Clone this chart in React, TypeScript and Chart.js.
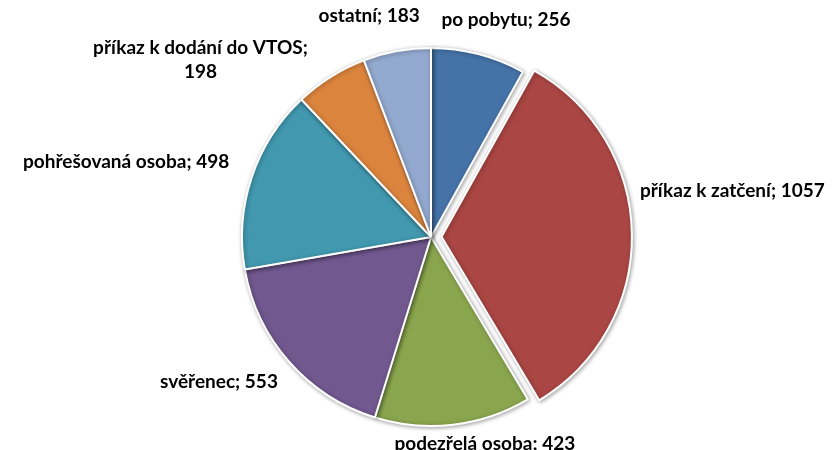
import { useEffect, useRef } from 'react';
import { Chart, registerables } from 'chart.js';

Chart.register(...registerables);

const categories = [
  'po pobytu',
  'příkaz k zatčení',
  'podezřelá osoba',
  'svěřenec',
  'pohřešovaná osoba',
  'příkaz k dodání do VTOS',
  'ostatní',
];
const values = [256, 1057, 423, 553, 498, 198, 183];
const colors = ['#4572A7', '#AA4643', '#89A54E', '#71588F', '#4198AF', '#DB843D', '#93A9CF'];
const explode = [0, 42, 0, 0, 0, 0, 0];

const labelNudge = [
  [5, 2],
  [-17, -43],
  [18, -18],
  [-7, -4],
  [-4, -4],
  [-60, 25],
  [-14, 1],
];

const shadowPlugin = {
  id: 'sliceShadow',
  beforeDatasetDraw(chart: any) {
    const ctx = chart.ctx;
    ctx.save();
    ctx.shadowColor = 'rgba(0,0,0,0.35)';
    ctx.shadowBlur = 4;
    ctx.shadowOffsetX = 1;
    ctx.shadowOffsetY = 1;
  },
  afterDatasetDraw(chart: any) {
    chart.ctx.restore();
  },
};

const labelPlugin = {
  id: 'outLabels',
  afterDraw(chart: any, _args: any, opts: any) {
    const ctx = chart.ctx;
    const meta = chart.getDatasetMeta(0);
    ctx.save();
    ctx.font = opts.font;
    ctx.fillStyle = opts.color;
    ctx.textBaseline = 'middle';
    ctx.textAlign = 'center';
    meta.data.forEach((arc: any, i: number) => {
      const { x, y, startAngle, endAngle, outerRadius } = arc.getProps(
        ['x', 'y', 'startAngle', 'endAngle', 'outerRadius'],
        true
      );
      const mid = (startAngle + endAngle) / 2;
      const circ = endAngle - startAngle;
      const o = (explode[i] || 0) / 4;
      const off = o + o * (1 - Math.sin(Math.min(Math.PI, circ)));
      const cx = x + Math.cos(mid) * off;
      const cy = y + Math.sin(mid) * off;
      const r = outerRadius + opts.gap;
      const ax = cx + Math.cos(mid) * r;
      const ay = cy + Math.sin(mid) * r;
      const full = `${categories[i]}; ${values[i]}`;
      let lines = [full];
      if (ctx.measureText(full).width > opts.maxWidth) {
        lines = [`${categories[i]};`, `${values[i]}`];
      }
      const w = Math.max(...lines.map((l) => ctx.measureText(l).width));
      const h = lines.length * opts.lineHeight;
      const nd = labelNudge[i] || [0, 0];
      const left = ax - (w * (1 - Math.cos(mid))) / 2 + nd[0];
      const top = ay - (h * (1 - Math.sin(mid))) / 2 + nd[1];
      lines.forEach((l, k) => {
        ctx.fillText(l, left + w / 2, top + opts.lineHeight * (k + 0.5));
      });
    });
    ctx.restore();
  },
};

export default function App() {
  const ref = useRef<HTMLCanvasElement | null>(null);
  useEffect(() => {
    document.body.style.margin = '0';
    if (!ref.current) return;
    const chart = new Chart(ref.current, {
      type: 'pie',
      data: {
        labels: categories,
        datasets: [
          {
            data: values,
            backgroundColor: colors,
            borderColor: '#ffffff',
            borderWidth: 2,
            offset: explode,
          },
        ],
      },
      options: {
        animation: false,
        responsive: false,
        radius: 189,
        layout: { padding: { left: 30, right: 0, top: 24, bottom: 0 } },
        plugins: {
          legend: { display: false },
          tooltip: { enabled: false },
          outLabels: {
            font: 'bold 19px Lato',
            color: '#000000',
            gap: 25,
            maxWidth: 240,
            lineHeight: 24,
          },
        } as any,
      },
      plugins: [shadowPlugin, labelPlugin],
    } as any);
    return () => chart.destroy();
  }, []);
  return (
    <div style={{ width: 832, height: 450, background: '#fff' }}>
      <canvas ref={ref} width={832} height={450} />
    </div>
  );
}
